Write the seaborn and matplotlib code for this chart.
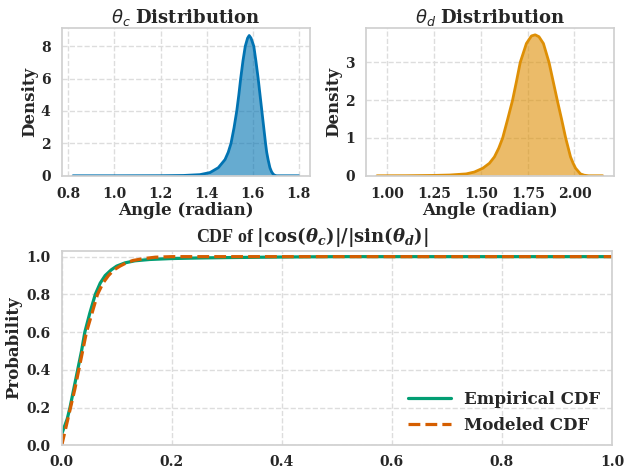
import numpy as np
import pandas as pd
import matplotlib
matplotlib.use('Agg')
import matplotlib.pyplot as plt
import seaborn as sns

# curvas (densidade KDE e CDF)
theta_c_x = [0.82, 1.00, 1.20, 1.30, 1.371, 1.415, 1.451, 1.480, 1.494, 1.506, 1.519, 1.531,
             1.540, 1.548, 1.558, 1.568, 1.578, 1.585, 1.593, 1.605, 1.614, 1.624, 1.632,
             1.640, 1.648, 1.656, 1.661, 1.667, 1.675, 1.682, 1.689, 1.696, 1.704, 1.75, 1.80]
theta_c_y = [0.0, 0.0, 0.005, 0.02, 0.07, 0.2, 0.5, 1.0, 1.45, 2.0, 2.95, 4.0,
             5.0, 6.0, 7.1, 8.0, 8.5, 8.66, 8.5, 8.0, 7.1, 6.0, 5.0,
             4.0, 3.0, 2.0, 1.45, 1.0, 0.5, 0.25, 0.1, 0.03, 0.0, 0.0, 0.0]

theta_d_x = [0.944, 1.10, 1.25, 1.333, 1.421, 1.465, 1.510, 1.545, 1.572, 1.595, 1.616, 1.643,
             1.669, 1.690, 1.710, 1.743, 1.770, 1.790, 1.810, 1.834, 1.864, 1.886, 1.908,
             1.931, 1.953, 1.979, 1.993, 2.006, 2.032, 2.052, 2.076, 2.11, 2.151]
theta_d_y = [0.0, 0.002, 0.01, 0.02, 0.05, 0.1, 0.2, 0.33, 0.5, 0.73, 1.0, 1.5,
             2.0, 2.5, 3.0, 3.5, 3.7, 3.73, 3.68, 3.5, 3.0, 2.5, 2.0,
             1.5, 1.0, 0.5, 0.33, 0.2, 0.05, 0.015, 0.0, 0.0, 0.0]

emp_x = [0.0, 0.010, 0.015, 0.022, 0.029, 0.036, 0.042, 0.051, 0.061, 0.070, 0.079, 0.090,
         0.100, 0.115, 0.133, 0.16, 0.20, 0.25, 0.30, 0.40, 0.50, 1.0]
emp_y = [0.06, 0.14, 0.20, 0.30, 0.40, 0.50, 0.60, 0.70, 0.80, 0.86, 0.90, 0.93,
         0.95, 0.967, 0.978, 0.985, 0.99, 0.993, 0.995, 0.998, 1.0, 1.0]

mod_x = [0.0, 0.008, 0.016, 0.024, 0.031, 0.038, 0.045, 0.055, 0.065, 0.075, 0.085, 0.095,
         0.106, 0.118, 0.13, 0.15, 0.17, 0.20, 1.0]
mod_y = [0.0, 0.10, 0.20, 0.30, 0.40, 0.50, 0.60, 0.70, 0.80, 0.86, 0.90, 0.93,
         0.95, 0.968, 0.98, 0.99, 0.997, 1.0, 1.0]

sns.set_theme(style='whitegrid', palette='colorblind')
plt.rcParams['font.family'] = ['DejaVu Serif']
plt.rcParams['font.weight'] = 'bold'
plt.rcParams['axes.labelweight'] = 'bold'
plt.rcParams['grid.linestyle'] = '--'
plt.rcParams['grid.color'] = '#dddddd'
plt.rcParams['axes.edgecolor'] = '#d0d0d0'
# fonte matematica: theta em sans italico (sem negrito), texto em serif negrito
plt.rcParams['mathtext.fontset'] = 'custom'
plt.rcParams['mathtext.rm'] = 'DejaVu Serif:weight=normal'
plt.rcParams['mathtext.it'] = 'DejaVu Sans:style=italic:weight=normal'
plt.rcParams['mathtext.bf'] = 'DejaVu Serif:weight=bold'

cores = sns.color_palette('colorblind')

fig = plt.figure(figsize=(6.26, 4.70), dpi=100)
ax1 = fig.add_axes([0.0986, 0.626, 0.3966, 0.3136])
ax2 = fig.add_axes([0.5842, 0.626, 0.3966, 0.3136])
ax3 = fig.add_axes([0.0986, 0.0525, 0.879, 0.4135])

# densidade de theta_c
df_c = pd.DataFrame({'x': theta_c_x, 'y': theta_c_y})
ax1.fill_between(df_c['x'], df_c['y'], color=cores[0], alpha=0.6, linewidth=0)
sns.lineplot(data=df_c, x='x', y='y', ax=ax1, color=cores[0], linewidth=2)
ax1.set_title(r'$\theta_c\ \mathbf{Distribution}$', fontsize=13, fontweight='normal', pad=4)
ax1.set_xlabel('Angle (radian)', fontsize=12, labelpad=1)
ax1.set_ylabel('Density', fontsize=12, labelpad=2)
ax1.set_xticks([0.8, 1.0, 1.2, 1.4, 1.6, 1.8])
ax1.set_yticks([0, 2, 4, 6, 8])
ax1.set_ylim(0, 9.1)

# densidade de theta_d
df_d = pd.DataFrame({'x': theta_d_x, 'y': theta_d_y})
ax2.fill_between(df_d['x'], df_d['y'], color=cores[1], alpha=0.6, linewidth=0)
sns.lineplot(data=df_d, x='x', y='y', ax=ax2, color=cores[1], linewidth=2)
ax2.set_title(r'$\theta_d\ \mathbf{Distribution}$', fontsize=13, fontweight='normal', pad=4)
ax2.set_xlabel('Angle (radian)', fontsize=12, labelpad=1)
ax2.set_ylabel('Density', fontsize=12, labelpad=2)
ax2.set_xticks([1.00, 1.25, 1.50, 1.75, 2.00])
ax2.set_yticks([0, 1, 2, 3])
ax2.set_ylim(0, 3.9)

for ax in (ax1, ax2):
    ax.tick_params(labelsize=10, pad=2)

# CDF empirica x modelada
df_emp = pd.DataFrame({'x': emp_x, 'y': emp_y})
df_mod = pd.DataFrame({'x': mod_x, 'y': mod_y})
sns.lineplot(data=df_emp, x='x', y='y', ax=ax3, color=cores[2], linewidth=2.3, label='Empirical CDF')
sns.lineplot(data=df_mod, x='x', y='y', ax=ax3, color=cores[3], linewidth=2.3, linestyle='--',
             label='Modeled CDF')
ax3.set_xlim(0, 1)
ax3.set_ylim(0, 1.03)
ax3.set_xticks([0.0, 0.2, 0.4, 0.6, 0.8, 1.0])
ax3.set_yticks([0.0, 0.2, 0.4, 0.6, 0.8, 1.0])
ax3.set_xlabel('')
ax3.set_ylabel('Probability', fontsize=12, labelpad=3)
ax3.tick_params(labelsize=10, pad=2)
ax3.tick_params(axis='x', pad=1)
ax3.text(0.455, 1.008,
         r'CDF of $|\mathbf{cos}(\mathbfit{\theta_c})|/|\mathbf{sin}(\mathbfit{\theta_d})|$',
         transform=ax3.transAxes, ha='center', va='bottom', fontsize=13, fontweight='bold',
         fontfamily='Liberation Serif', math_fontfamily='dejavuserif')
ax3.legend(loc='lower right', frameon=False, fontsize=12, handlelength=2.6,
           borderaxespad=0.3)

fig.savefig('out.png', dpi=100)
